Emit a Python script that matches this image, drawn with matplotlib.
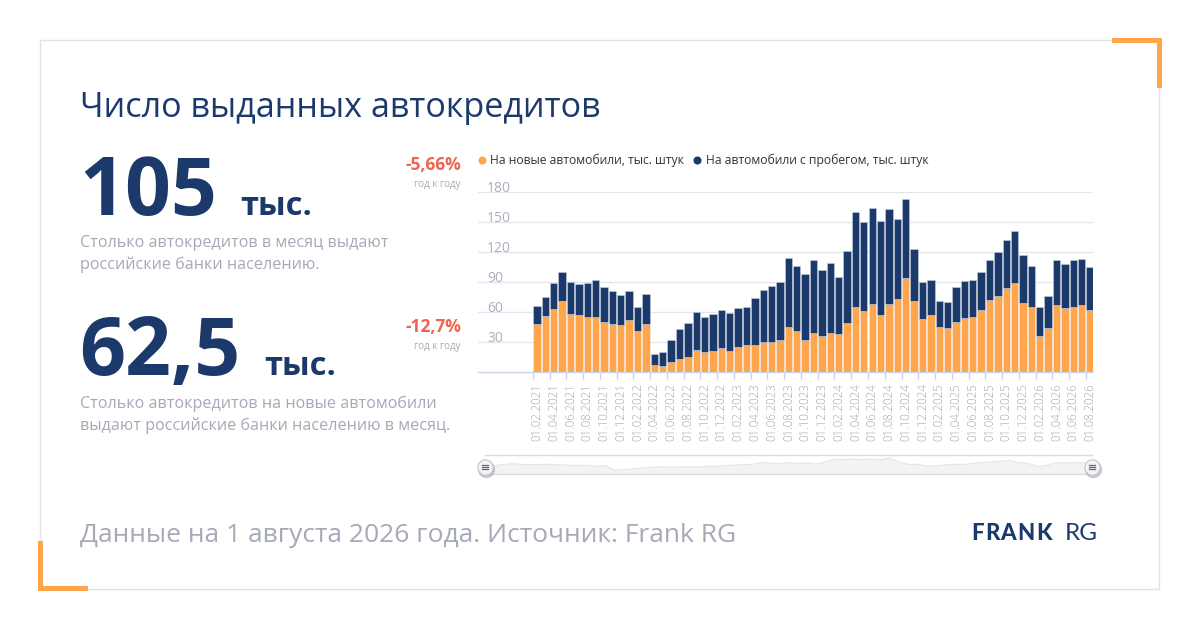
import matplotlib
matplotlib.use("Agg")
import matplotlib.pyplot as plt
from matplotlib.patches import Rectangle
from matplotlib.lines import Line2D
import matplotlib.transforms as mtransforms
import numpy as np

plt.rcParams['font.family'] = ['Open Sans', 'DejaVu Sans']

# ---------------- data ----------------
months = []
for y in range(2021, 2027):
    for m in range(1, 13):
        if (y == 2021 and m < 2) or (y == 2026 and m > 8):
            continue
        months.append(f"01.{m:02d}.{y}")

new_cars = [48.3, 55.7, 62.7, 70.7, 58.0, 57.3, 54.7, 54.7, 50.0, 47.7, 47.0, 51.7,
            40.7, 48.3, 6.7, 6.0, 10.3, 12.7, 15.3, 22.0, 20.3, 21.0, 23.7, 20.7,
            25.3, 27.0, 27.0, 29.7, 29.7, 32.3, 44.7, 41.0, 32.3, 38.7, 35.7, 39.0,
            37.7, 49.0, 65.0, 61.0, 68.3, 57.3, 67.7, 73.3, 94.0, 70.7, 53.0, 56.7,
            45.0, 44.3, 49.7, 54.0, 54.7, 61.7, 72.0, 76.0, 83.7, 89.0, 69.3, 65.0,
            36.0, 44.0, 66.7, 64.0, 64.7, 67.0, 62.5]
totals = [66.3, 74.7, 89.0, 100.3, 90.0, 87.7, 89.0, 92.0, 85.0, 81.3, 77.0, 81.0,
          65.0, 78.3, 17.7, 20.0, 32.3, 43.3, 49.3, 60.0, 55.0, 57.7, 62.3, 58.7,
          63.7, 65.0, 74.3, 82.0, 86.0, 90.0, 114.0, 106.3, 97.7, 112.0, 102.3, 108.7,
          95.0, 121.3, 160.0, 150.0, 164.0, 151.0, 163.3, 153.0, 172.7, 123.0, 90.3, 92.3,
          70.7, 70.3, 84.7, 91.0, 91.7, 100.3, 112.3, 120.3, 132.3, 141.3, 116.7, 106.3,
          65.3, 76.0, 112.0, 108.0, 111.7, 113.0, 105.0]
used_cars = [round(t - n, 1) for t, n in zip(totals, new_cars)]

y_ticks = [30, 60, 90, 120, 150, 180]
series_names = ["На новые автомобили, тыс. штук", "На автомобили с пробегом, тыс. штук"]

ORANGE = "#ffa64d"
NAVY = "#1b3a6b"
RED = "#ef6450"
GREY_TXT = "#a5a9b8"
GRID = "#e3e6f0"

W, H = 1200, 630
fig = plt.figure(figsize=(12, 6.3), dpi=100)
fig.patch.set_facecolor("white")

def fx(x):
    return x / W

def fy(y):
    return 1 - y / H

# ---------------- card frame & corners ----------------
fig.patches.append(Rectangle((fx(40), fy(589)), fx(1159) - fx(40), fy(40) - fy(589),
                             transform=fig.transFigure, fill=False, ec="#e2e2e2", lw=1.0))
for (x0, y0, w, h) in [(1112, 38, 50, 5), (1157, 38, 5, 50), (38, 541, 5, 50), (38, 586, 50, 5)]:
    fig.patches.append(Rectangle((fx(x0), fy(y0 + h)), w / W, h / H,
                                 transform=fig.transFigure, color=ORANGE, lw=0))

# ---------------- left texts ----------------
fig.text(fx(80), fy(117), "Число выданных автокредитов", fontsize=24.6, color=NAVY, va="baseline")

fig.text(fx(79), fy(215), "105", fontsize=58, fontweight="bold", color=NAVY, va="baseline")
fig.text(fx(240), fy(215), "тыс.", fontsize=23.5, fontweight="bold", color=NAVY, va="baseline")
fig.text(fx(80), fy(247), "Столько автокредитов в месяц выдают", fontsize=11.6, color=GREY_TXT, va="baseline")
fig.text(fx(80), fy(269), "российские банки населению.", fontsize=11.6, color=GREY_TXT, va="baseline")
fig.text(fx(461), fy(170), "-5,66%", fontsize=12.5, fontweight="bold", color=RED, ha="right", va="baseline")
fig.text(fx(461), fy(187), "год к году", fontsize=7, color="#a8abb5", ha="right", va="baseline")

fig.text(fx(79), fy(375), "62,5", fontsize=58, fontweight="bold", color=NAVY, va="baseline")
fig.text(fx(264), fy(375), "тыс.", fontsize=23.5, fontweight="bold", color=NAVY, va="baseline")
fig.text(fx(80), fy(408), "Столько автокредитов на новые автомобили", fontsize=11.6, color=GREY_TXT, va="baseline")
fig.text(fx(80), fy(430), "выдают российские банки населению в месяц.", fontsize=11.6, color=GREY_TXT, va="baseline")
fig.text(fx(461), fy(332), "-12,7%", fontsize=12.5, fontweight="bold", color=RED, ha="right", va="baseline")
fig.text(fx(461), fy(349), "год к году", fontsize=7, color="#a8abb5", ha="right", va="baseline")

fig.text(fx(80), fy(542), "Данные на 1 августа 2026 года. Источник: Frank RG", fontsize=19, color=GREY_TXT, va="baseline")

# logo with letter spacing
renderer = fig.canvas.get_renderer()
cx = 971
for ch in "FRANK":
    t = fig.text(fx(cx), fy(540), ch, fontsize=16, fontweight="black", color=NAVY, va="baseline", family="Lato")
    bb = t.get_window_extent(renderer=renderer)
    cx += bb.width + 1.2
fig.text(fx(1065), fy(540), "RG", fontsize=17.5, fontweight="normal", color=NAVY, va="baseline", family="Lato")

# ---------------- main chart ----------------
n = len(months)
x = np.arange(n)
ax_left, ax_right, ax_bot, ax_top = 478, 1093, 372, 192
ax = fig.add_axes([fx(ax_left), fy(ax_bot), (ax_right - ax_left) / W, (ax_bot - ax_top) / H])
ax.set_facecolor("none")
ax.bar(x, new_cars, width=0.88, color=ORANGE, edgecolor="#e8eaf0", linewidth=0.4, zorder=3)
ax.bar(x, used_cars, bottom=new_cars, width=0.88, color=NAVY, edgecolor="#c9cfdc", linewidth=0.4, zorder=3)
ax.set_xlim(-7.04, 66.35)
ax.set_ylim(0, 180)
for v in y_ticks:
    ax.axhline(v, color=GRID, lw=1, zorder=1)
for s in ["top", "right", "left"]:
    ax.spines[s].set_visible(False)
ax.spines["bottom"].set_color("#ccd6eb")
ax.spines["bottom"].set_linewidth(1)
ax.set_yticks([])
ax.set_xticks(np.arange(-0.5, n, 2))
ax.set_xticklabels([])
ax.tick_params(axis="x", length=5, color="#ccd6eb", width=1)
for i in range(0, n, 2):
    ax.text(i, -11, months[i], rotation=90, ha="center", va="top", fontsize=8.3,
            color="#a3a7b3", transform=ax.transData, clip_on=False, fontweight="light")
ytrans = ax.get_yaxis_transform()
off = mtransforms.ScaledTranslation(0, 0.5 / 100, fig.dpi_scale_trans)
for v in y_ticks:
    ax.text((487 - ax_left) / (ax_right - ax_left), v, str(v), fontsize=10, color="#adb0ba",
            ha="left", va="baseline", transform=ytrans + off, clip_on=False)

# legend
for (lx, tx, col, name) in [(482, 490, ORANGE, series_names[0]), (697, 706, NAVY, series_names[1])]:
    fig.add_artist(Line2D([fx(lx)], [fy(160)], marker="o", markersize=4.8, color=col, lw=0,
                          transform=fig.transFigure))
    fig.text(fx(tx), fy(160), name, fontsize=8.7, color="#333333", va="center")

# ---------------- navigator ----------------
nav = fig.add_axes([fx(485), fy(474), (1092 - 485) / W, (474 - 455) / H])
nav.set_xlim(0, n - 1)
nav.set_ylim(-34, 213)
nav.fill_between(x, totals, -34, color="#f3f3f5", lw=0)
nav.plot(x, totals, color="#e4e4e8", lw=0.8)
nav.set_xticks([]); nav.set_yticks([])
for s in ["left", "right"]:
    nav.spines[s].set_visible(False)
for s in ["top", "bottom"]:
    nav.spines[s].set_color("#dcdce0")
    nav.spines[s].set_linewidth(1)
nav.set_facecolor("none")

for hx in (485, 1092):
    fig.add_artist(Line2D([fx(hx + 1)], [fy(468.5)], marker="o", markersize=11.5, color="#9a9aa4",
                          alpha=0.45, lw=0, transform=fig.transFigure, zorder=5))
    fig.add_artist(Line2D([fx(hx)], [fy(467)], marker="o", markersize=11, markerfacecolor="#f4f4f6",
                          markeredgecolor="#c4c4cc", markeredgewidth=0.8, lw=0,
                          transform=fig.transFigure, zorder=6))
    for dy in (-2, 0, 2):
        fig.add_artist(Line2D([fx(hx - 3), fx(hx + 3)], [fy(467 + dy)] * 2,
                              transform=fig.transFigure, color="#666a75", lw=0.9, zorder=7))

fig.savefig("out.png", dpi=100, facecolor="white")
